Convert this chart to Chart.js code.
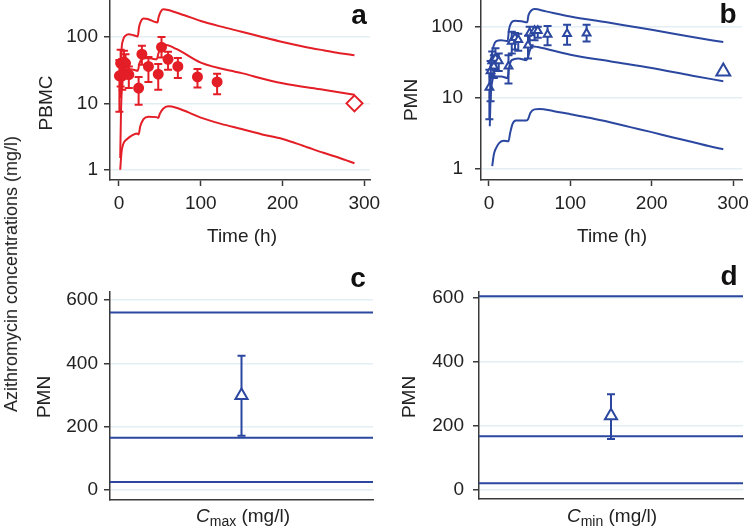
<!DOCTYPE html>
<html>
<head>
<meta charset="utf-8">
<script src="https://cdn.jsdelivr.net/npm/chart.js@4"></script>
<style>
  body { margin: 0; background: #fff; }
  #wrap { position: relative; width: 750px; height: 530px; font-family: "Liberation Sans", Arial, sans-serif; color: #222; }
  canvas { position: absolute; }
  .lbl { position: absolute; font-size: 19px; white-space: nowrap; transform: translate(-50%, -50%); line-height: 1; }
  .rot { transform: translate(-50%, -50%) rotate(-90deg); }
  .letter { font-size: 28px; font-weight: bold; color: #111; }
  sub { font-size: 14px; vertical-align: -4px; }
</style>
</head>
<body>
<div id="wrap">
  <canvas id="cb" width="375" height="265" style="left:375px;top:0"></canvas>
  <canvas id="ca" width="390" height="265" style="left:0;top:0"></canvas>
  <canvas id="cc" width="375" height="265" style="left:0;top:265px"></canvas>
  <canvas id="cd" width="375" height="265" style="left:375px;top:265px"></canvas>

  <div class="lbl rot" style="left:11px;top:274px;font-size:18px">Azithromycin concentrations (mg/l)</div>
  <div class="lbl rot" style="left:45px;top:103px">PBMC</div>
  <div class="lbl rot" style="left:410px;top:100px">PMN</div>
  <div class="lbl rot" style="left:43px;top:397px">PMN</div>
  <div class="lbl rot" style="left:408px;top:397px">PMN</div>
  <div class="lbl" style="left:242px;top:235px">Time (h)</div>
  <div class="lbl" style="left:612px;top:235px">Time (h)</div>
  <div class="lbl" style="left:243px;top:517px"><i>C</i><sub>max</sub> (mg/l)</div>
  <div class="lbl" style="left:612px;top:517px"><i>C</i><sub>min</sub> (mg/l)</div>
  <div class="lbl letter" style="left:359px;top:15px">a</div>
  <div class="lbl letter" style="left:728px;top:14px">b</div>
  <div class="lbl letter" style="left:358px;top:278px">c</div>
  <div class="lbl letter" style="left:729px;top:276px">d</div>
</div>

<script>
// --- panel a: PBMC, [time h, conc mg/l] ---
const aUpper = [[1.5, 12], [3, 60], [5, 90], [8, 105], [12, 110], [18, 106], [23, 102], [24.5, 140], [27, 175], [30, 190], [36, 185], [42, 172], [47, 165], [48.5, 200], [51, 240], [54, 262], [60, 255], [80, 212], [100, 174], [125, 143], [150, 120], [175, 100], [200, 84], [225, 72], [250, 63], [270, 57], [288, 53]];
const aMid = [[1.5, 1.5], [2.5, 8], [4, 20], [7, 30], [12, 33], [18, 32], [23, 31], [25, 40], [29, 47], [36, 48], [46, 46], [48.5, 58], [52, 72], [56, 76], [70, 66], [100, 41], [150, 28.5], [200, 20], [250, 16], [288, 13.5]];
const aLow = [[1.5, 1], [3, 1.8], [5, 2.4], [10, 2.9], [16, 3.3], [22, 3.5], [24, 3.4], [26, 4.5], [30, 5.8], [36, 6.3], [46, 6.2], [48, 6.0], [50, 7.0], [54, 8.3], [60, 9.0], [70, 8.6], [85, 7.3], [100, 6.1], [125, 4.9], [150, 4.1], [175, 3.4], [200, 2.9], [225, 2.3], [250, 1.8], [270, 1.5], [288, 1.25]];
const aTimes = [0.5, 2, 4, 6, 8, 12, 24, 28, 36, 48, 52, 60, 72, 96, 120];
const aObs = [26, 40, 26, 42, 40, 27, 17, 55, 36, 27.5, 70, 46, 36, 25, 21];
const aLo = [7.5, 18, 16, 28, 26, 17, 9.5, 38, 21, 16, 49, 32, 24, 17.3, 13.7];
const aHi = [45, 64, 46, 62, 55, 36, 25, 74, 50, 39, 100, 60, 48, 33, 28];
const aExtra = [[288, 10]];

// --- panel b: PMN ---
const bUpper = [[1, 10], [3, 35], [6, 55], [9, 63], [15, 65], [23, 63], [24.5, 90], [27, 112], [32, 122], [40, 120], [47, 116], [48.5, 145], [52, 170], [56, 178], [70, 165], [100, 140], [150, 113], [200, 91], [250, 72], [288, 61]];
const bMid = [[1, 4], [2, 10], [4, 17], [7, 20], [15, 20], [23, 19], [24.5, 26], [28, 34], [36, 36], [46, 34], [48, 37], [50, 46], [55, 53], [60, 52], [100, 40.5], [150, 32.5], [200, 26.3], [250, 20.5], [288, 17.2]];
const bLow = [[4, 1.1], [6, 1.6], [9, 2.0], [13, 2.35], [18, 2.5], [24, 2.45], [26, 3.2], [29, 4.3], [33, 4.8], [46, 4.8], [48, 5.0], [51, 6.2], [56, 6.9], [62, 7.0], [80, 6.5], [100, 5.9], [125, 5.2], [150, 4.5], [175, 3.85], [200, 3.3], [225, 2.8], [250, 2.4], [270, 2.1], [288, 1.9]];
const bTimes = [0.5, 2, 4, 6, 8, 12, 24, 28, 32, 36, 48, 50, 56, 60, 72, 96, 120];
const bObs = [14, 24, 33, 28, 36, 33, 28, 62, 70, 66, 55, 82, 88, 88, 78, 80, 81];
const bLo = [5, 9, 20, 19, 25, 24, 16, 42, 48, 46, 36, 55, 65, 70, 55, 56, 62];
const bHi = [25, 33, 45, 40, 50, 42, 40, 85, 82, 80, 75, 100, 100, 100, 103, 107, 107];
const bExtra = [[288, 23.5]];

// --- panels c, d: PMN Cmax / Cmin ---
const cLines = [560, 165, 25];
const cObs = 298, cLo = 171, cHi = 424;
const dLines = [605, 168, 21];
const dObs = 232, dLo = 159, dHi = 299;

const logTicks = [1, 10, 100];
const timeTicks = [0, 100, 200, 300];
const pmnTicks = [0, 200, 400, 600];

const RED = '#e41e26';
const BLUE = '#2b47a0';
const AXIS = '#3a3a3a';
const GRID = '#e3eff4';

Chart.defaults.font.family = '"Liberation Sans", Arial, sans-serif';
Chart.defaults.font.size = 19;
Chart.defaults.color = '#222';

// error bars drawn with the chart's own scales
const errorBars = {
  id: 'errorBars',
  beforeDatasetsDraw(chart, args, opts) {
    const { ctx, scales: { x, y } } = chart;
    ctx.save();
    ctx.strokeStyle = opts.color;
    ctx.lineWidth = opts.width;
    ctx.beginPath();
    opts.times.forEach((t, i) => {
      const px = x.getPixelForValue(t);
      const lo = y.getPixelForValue(opts.lo[i]);
      const hi = y.getPixelForValue(opts.hi[i]);
      ctx.moveTo(px, lo); ctx.lineTo(px, hi);
      ctx.moveTo(px - opts.cap, lo); ctx.lineTo(px + opts.cap, lo);
      ctx.moveTo(px - opts.cap, hi); ctx.lineTo(px + opts.cap, hi);
    });
    ctx.stroke();
    ctx.restore();
  }
};

const toXY = arr => arr.map(([x, y]) => ({ x, y }));

function curve(arr, color) {
  return { data: toXY(arr), borderColor: color, borderWidth: 2, pointRadius: 0, cubicInterpolationMode: 'monotone', fill: false };
}

function points(arr, color, style, radius, fillColor) {
  return { data: toXY(arr), showLine: false, pointStyle: style, pointRadius: radius, pointBorderWidth: 2, pointBorderColor: color, pointBackgroundColor: fillColor };
}

// keep the plot box fixed: no extra room for label overhang
function noPad(s) {
  s.paddingTop = 0; s.paddingBottom = 0; s.paddingLeft = 0; s.paddingRight = 0;
}

function xScale(min, max, ticks, height) {
  return {
    type: 'linear', min, max,
    afterBuildTicks: s => { s.ticks = ticks.map(v => ({ value: v })); },
    afterFit: s => { s.height = height; noPad(s); },
    grid: { display: ticks.length > 0, drawOnChartArea: false, tickLength: 6, tickColor: AXIS, tickWidth: 1.5 },
    border: { color: AXIS, width: 1.5 },
    ticks: { display: ticks.length > 0, padding: 6, maxRotation: 0, color: '#222' }
  };
}

function yScale(type, min, max, ticks, width, pad) {
  return {
    type, min, max,
    afterBuildTicks: s => { s.ticks = ticks.map(v => ({ value: v })); },
    afterFit: s => { s.width = width; noPad(s); },
    grid: { color: GRID, lineWidth: 1.5, tickLength: 6, tickColor: AXIS, tickWidth: 1.5 },
    border: { color: AXIS, width: 1.5 },
    ticks: { padding: pad, color: '#222', callback: v => String(v) }
  };
}

function makeChart(id, datasets, scales, padding, bars) {
  return new Chart(document.getElementById(id), {
    type: 'line',
    data: { datasets },
    options: {
      responsive: false,
      animation: false,
      layout: { padding, autoPadding: false },
      plugins: { legend: { display: false }, tooltip: { enabled: false }, errorBars: bars },
      scales
    },
    plugins: [errorBars]
  });
}

makeChart('ca', [
  curve(aUpper, RED), curve(aMid, RED), curve(aLow, RED),
  points(aTimes.map((t, i) => [t, aObs[i]]), RED, 'circle', 4.5, RED),
  points(aExtra, RED, 'rectRot', 8, '#fff')
], {
  x: xScale(-11, 307, timeTicks, 85),
  y: yScale('logarithmic', 0.707, 348, logTicks, 110, 6)
}, { top: 1, right: 20, left: 0, bottom: 0 },
{ times: aTimes, lo: aLo, hi: aHi, color: RED, width: 2, cap: 4 });

makeChart('cb', [
  curve(bUpper, BLUE), curve(bMid, BLUE), curve(bLow, BLUE),
  points(bTimes.map((t, i) => [t, bObs[i]]), BLUE, 'triangle', 4.5, '#fff'),
  points(bExtra, BLUE, 'triangle', 8, '#fff')
], {
  x: xScale(-9.8, 311, timeTicks, 85),
  y: yScale('logarithmic', 0.725, 231, logTicks, 106, 12)
}, { top: 1, right: 8, left: 0, bottom: 0 },
{ times: bTimes, lo: bLo, hi: bHi, color: BLUE, width: 2, cap: 4 });

function hLine(v) {
  return { data: [{ x: 0, y: v }, { x: 2, y: v }], borderColor: BLUE, borderWidth: 2, pointRadius: 0 };
}

makeChart('cc', [
  ...cLines.map(hLine),
  points([[1, cObs]], BLUE, 'triangle', 7, '#fff')
], {
  x: xScale(0, 2, [], 30),
  y: yScale('linear', -31.6, 625, pmnTicks, 110, 6)
}, { top: 27, right: 2, left: 0, bottom: 0 },
{ times: [1], lo: [cLo], hi: [cHi], color: BLUE, width: 2, cap: 4 });

makeChart('cd', [
  ...dLines.map(hLine),
  points([[1, dObs]], BLUE, 'triangle', 7, '#fff')
], {
  x: xScale(0, 2, [], 31),
  y: yScale('linear', -28, 618, pmnTicks, 104, 9)
}, { top: 27, right: 7, left: 0, bottom: 0 },
{ times: [1], lo: [dLo], hi: [dHi], color: BLUE, width: 2, cap: 4 });
</script>
</body>
</html>
